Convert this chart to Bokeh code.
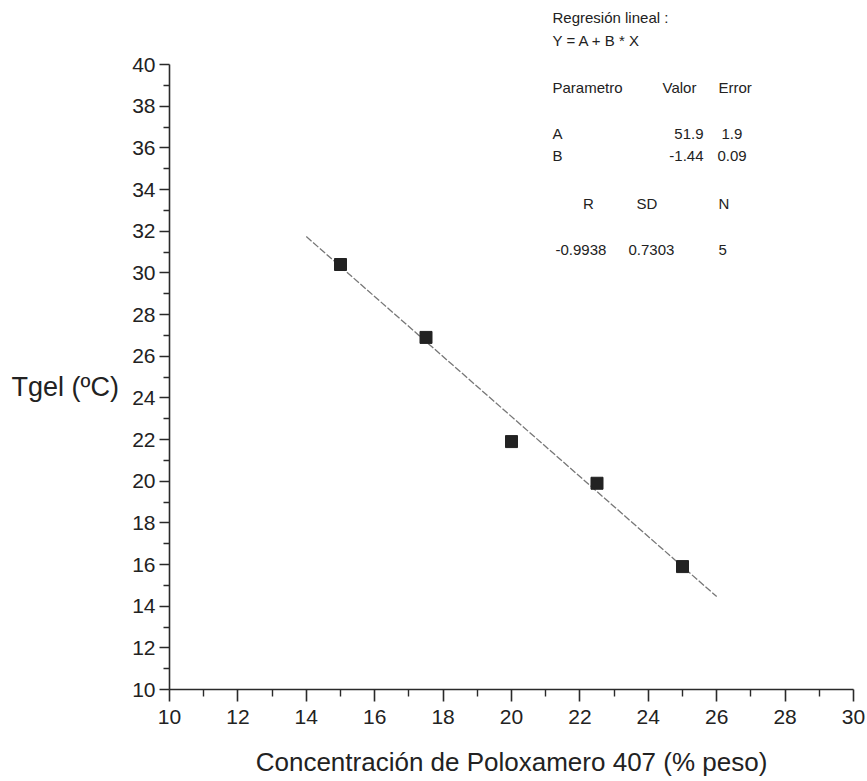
from bokeh.plotting import figure
from bokeh.models import Label, FixedTicker, Range1d, ColumnDataSource
from bokeh.embed import file_html
from bokeh.resources import INLINE

# data
conc = [15.0, 17.5, 20.0, 22.5, 25.0]
tgel = [30.4, 26.9, 21.9, 19.9, 15.9]
fit_A = 51.9
fit_B = -1.44
fit_x = [14.0, 26.0]
fit_y = [fit_A + fit_B * v for v in fit_x]
x_ticks = list(range(10, 31, 2))
y_ticks = list(range(10, 41, 2))
x_minor = list(range(11, 30, 2))
y_minor = list(range(11, 40, 2))

FONT = "Liberation Sans"
W, H = 867, 781
L, R, B = 169, 14, 92
AX_TOP = 64                      # pixel where y = 40 sits
sx = 20.0 / (W - L - R)          # data units per pixel, x
sy = 30.0 / (H - B - AX_TOP)     # data units per pixel, y
y_top = 40 + AX_TOP * sy         # frame extends to canvas top so the header text fits

p = figure(width=W, height=H, output_backend="svg", toolbar_location=None,
           x_range=Range1d(10, 30), y_range=Range1d(10, y_top),
           min_border_left=L, min_border_right=R, min_border_top=0, min_border_bottom=B)
p.outline_line_color = None
p.xgrid.visible = False
p.ygrid.visible = False
p.background_fill_color = "#ffffff"
p.border_fill_color = "#ffffff"

for ax, maj, mnr in ((p.xaxis[0], x_ticks, x_minor), (p.yaxis[0], y_ticks, y_minor)):
    ax.ticker = FixedTicker(ticks=maj, minor_ticks=mnr)
    ax.axis_line_color = "#2a2a2a"
    ax.axis_line_width = 1.6
    ax.major_tick_line_color = "#2a2a2a"
    ax.major_tick_line_width = 1.6
    ax.minor_tick_line_color = "#2a2a2a"
    ax.minor_tick_line_width = 1.4
    ax.major_tick_in = 0
    ax.minor_tick_in = 0
    ax.major_label_text_font = FONT
    ax.major_label_text_font_size = "21px"
    ax.major_label_text_color = "#222222"

p.yaxis[0].bounds = (10, 40)
p.xaxis[0].major_tick_out = 12
p.xaxis[0].minor_tick_out = 7
p.yaxis[0].major_tick_out = 10
p.yaxis[0].minor_tick_out = 6
p.xaxis[0].major_label_standoff = 8
p.yaxis[0].major_label_standoff = 4

p.xaxis[0].axis_label = "Concentración de Poloxamero 407 (% peso)"
p.xaxis[0].axis_label_text_font = FONT
p.xaxis[0].axis_label_text_font_size = "26px"
p.xaxis[0].axis_label_text_font_style = "normal"
p.xaxis[0].axis_label_text_color = "#222222"
p.xaxis[0].axis_label_standoff = 20

# y-axis title, drawn in the left side panel
p.add_layout(Label(x=-11, y=H - B - 386, x_units="screen", y_units="screen",
                   text="Tgel (ºC)", text_font=FONT, text_font_size="27px",
                   text_color="#222222", text_align="left", text_baseline="middle"), "left")

src = ColumnDataSource(dict(x=fit_x, y=fit_y))
p.line("x", "y", source=src, line_color="#777777", line_width=1.3, line_dash="7 2")
p.scatter(conc, tgel, marker="square", size=12, fill_color="#222222", line_color="#222222")


def px(xp):
    return 10 + (xp - L) * sx


def py(yp):
    return 10 + (H - B - yp) * sy


def lab(text, xp, yp, size="15px", align="left"):
    p.add_layout(Label(x=px(xp), y=py(yp), text=text, text_font=FONT,
                       text_font_size=size, text_color="#222222",
                       text_align=align, text_baseline="middle"))


lab("Regresión lineal :", 552, 17)
lab("Y = A + B * X", 552, 40)
lab("Parametro", 552, 87)
lab("Valor", 662, 87)
lab("Error", 718, 87)
lab("A", 552, 133)
lab("51.9", 703, 133, align="right")
lab("1.9", 721, 133)
lab("B", 552, 155)
lab("-1.44", 703, 155, align="right")
lab("0.09", 717, 155)
lab("R", 588, 203, align="center")
lab("SD", 636, 203)
lab("N", 718, 203)
lab("-0.9938", 555, 249)
lab("0.7303", 628, 249)
lab("5", 718, 249)

open("out.html", "w").write(file_html(p, INLINE))
